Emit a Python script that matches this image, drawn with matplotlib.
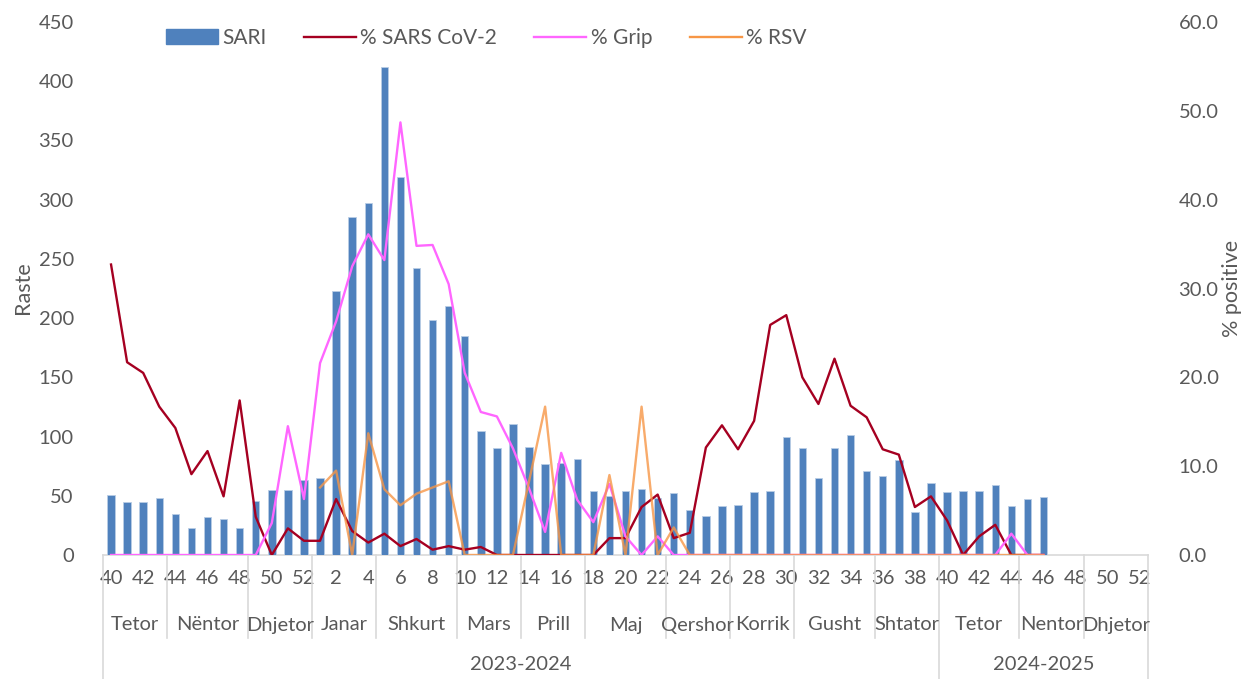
import matplotlib
matplotlib.use("Agg")
import matplotlib.pyplot as plt
import numpy as np
from matplotlib.patches import Patch
from matplotlib.lines import Line2D

plt.rcParams['font.family'] = ['Lato', 'DejaVu Sans']

# ---- data ----
week_labels = [str(w) for w in range(40, 53)] + [str(w) for w in range(1, 53)]
sari = [51, 45, 45, 48, 35, 23, 32, 30, 23, 46, 55, 55, 63,
        65, 223, 285, 297, 412, 319, 242, 198, 210, 185,
        105, 90, 111, 91, 77, 78, 81,
        54, 50, 54, 56, 48,
        52, 38, 33, 41,
        42, 53, 54, 100,
        90, 65, 90, 101, 71,
        67, 80, 36, 61,
        53, 54, 54, 59, 41,
        47, 49]
sars = [32.7, 21.7, 20.5, 16.7, 14.3, 9.1, 11.7, 6.6, 17.4, 4.3, 0.0, 3.0, 1.6,
        1.6, 6.3, 2.7, 1.4, 2.4, 1.0, 1.8, 0.6, 1.0, 0.6, 0.9,
        0, 0, 0, 0, 0, 0, 0,
        1.9, 1.9, 5.4, 6.8, 1.9, 2.5, 12.1, 14.6, 11.9, 15.1, 25.9, 27.0,
        20.0, 17.0, 22.1, 16.8, 15.5, 11.9, 11.3, 5.4, 6.6, 3.9, 0, 2.1, 3.4,
        0, 0, 0]
grip = [0, 0, 0, 0, 0, 0, 0, 0, 0, 0, 3.6, 14.5, 6.3,
        21.6, 26.3, 32.5, 36.1, 33.2, 48.7, 34.8, 34.9, 30.5, 20.5,
        16.1, 15.6, 12.0, 7.5, 2.6, 11.5, 6.2,
        3.7, 8.0, 2.1, 0, 2.1,
        0, 0, 0, 0, 0, 0, 0, 0, 0, 0, 0, 0, 0, 0, 0, 0, 0, 0, 0, 0, 0,
        2.4, 0, 0]
rsv = ([None] * 13
       + [7.6, 9.5, 0, 13.7, 7.4, 5.6, 6.9, 7.6, 8.3, 0]
       + [0, 0, 0, 8.3, 16.7, 0, 0]
       + [0, 9.0, 0, 16.7, 0]
       + [3.1]
       + [0] * 23)
months = ['Tetor', 'Nëntor', 'Dhjetor', 'Janar', 'Shkurt', 'Mars', 'Prill', 'Maj',
          'Qershor', 'Korrik', 'Gusht', 'Shtator', 'Tetor', 'Nentor', 'Dhjetor']
month_weeks = [4, 5, 4, 4, 5, 4, 4, 5, 4, 4, 5, 4, 5, 4, 4]
seasons = ['2023-2024', '2024-2025']
season_weeks = [52, 13]

gray = '#595959'
sep = '#D9D9D9'

fig = plt.figure(figsize=(12.44, 6.79), dpi=100)
ax = fig.add_axes([103/1244, 1-555/679, (1148-103)/1244, (555-22)/679])
ax2 = ax.twinx()

n = len(week_labels)
xb = np.arange(len(sari))
ax.bar(xb, sari, width=0.46, color='#4F81BD', edgecolor='#B9CDE5', linewidth=0.6, zorder=2)
ax.set_xlim(-0.5, n - 0.5)
ax.set_ylim(0, 450)
ax.set_yticks(np.arange(0, 451, 50))

ax2.plot(np.arange(len(sars)), sars, color='#A50021', lw=1.7, zorder=3)
ax2.plot(np.arange(len(grip)), grip, color='#FF66FF', lw=1.7, zorder=4)
rsv_arr = np.array([np.nan if v is None else v for v in rsv], dtype=float)
ax2.plot(np.arange(len(rsv_arr)), rsv_arr, color='#F79646', lw=1.7, alpha=0.8, zorder=5)
ax2.set_ylim(0, 60)
ax2.set_yticks(np.arange(0, 61, 10))
ax2.set_yticklabels([f'{v:.1f}' for v in np.arange(0, 61, 10)])

# x ticks
ticks = [i for i in range(n) if i % 2 == 0]
ax.set_xticks(ticks)
ax.set_xticklabels([week_labels[i] for i in ticks])

for a in (ax, ax2):
    for s in ['top', 'left', 'right', 'bottom']:
        a.spines[s].set_visible(False)
ax.tick_params(axis='x', length=0, pad=11, labelsize=14.5, colors=gray)
ax.tick_params(axis='y', length=0, pad=21, labelsize=14.5, colors=gray)
ax2.tick_params(axis='y', length=0, pad=22, labelsize=14.5, colors=gray)

# bottom axis line
trans = ax.get_xaxis_transform()
ax.plot([-0.5, n - 0.5], [0, 0], color=sep, lw=1.2, transform=trans, clip_on=False, zorder=1)

# month separators and labels
y_month_bot = -(638 - 555) / 533
y_full_bot = -(679 - 555) / 533
y_month_lab = -(625 - 555) / 533
y_year_lab = -(665 - 555) / 533
season_bounds = list(np.cumsum([0] + season_weeks))
pos = 0
bounds = [0]
for m, w in zip(months, month_weeks):
    ax.text(pos + w / 2 - 0.5, y_month_lab, m, transform=trans, ha='center', va='center',
            fontsize=14.5, color=gray)
    pos += w
    bounds.append(pos)
for b in bounds:
    ybot = y_full_bot if b in season_bounds else y_month_bot
    ax.plot([b - 0.5, b - 0.5], [0, ybot], color=sep, lw=1.2, transform=trans, clip_on=False)
pos = 0
for s, w in zip(seasons, season_weeks):
    ax.text(pos + w / 2 - 0.5, y_year_lab, s, transform=trans, ha='center', va='center',
            fontsize=14.5, color=gray)
    pos += w

fig.text(23/1244, 1 - 288/679, 'Raste', rotation=90, ha='center', va='center', fontsize=15.5, color=gray)
fig.text(1232/1244, 1 - 288/679, '% positive', rotation=90, ha='center', va='center', fontsize=15.5, color=gray)

handles = [Patch(facecolor='#4F81BD', edgecolor='#4F81BD'),
           Line2D([], [], color='#A50021', lw=1.7),
           Line2D([], [], color='#FF66FF', lw=1.7),
           Line2D([], [], color='#F79646', lw=1.7)]
leg = fig.legend(handles, ['SARI', '% SARS CoV-2', '% Grip', '% RSV'], loc='center',
                 bbox_to_anchor=(486/1244, 1 - 38/679), ncol=4, frameon=False,
                 fontsize=15, handlelength=2.5, handleheight=0.7, handletextpad=0.2,
                 columnspacing=1.8, labelcolor=gray)

fig.savefig('out.png', dpi=100)
